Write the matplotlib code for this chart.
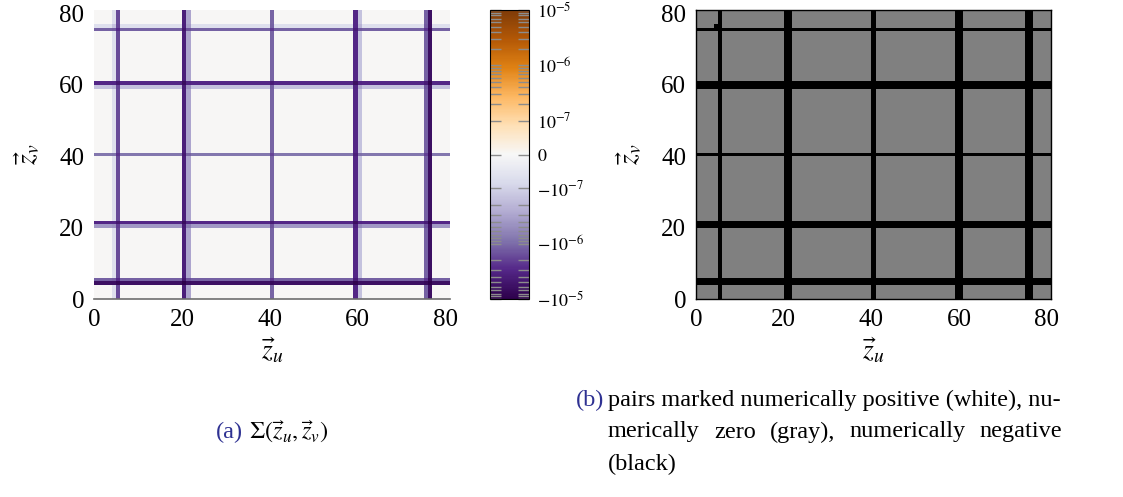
import numpy as np
import matplotlib
matplotlib.use("Agg")
import matplotlib.pyplot as plt
from matplotlib.colors import SymLogNorm, ListedColormap, BoundaryNorm
from matplotlib.ticker import FixedLocator

plt.rcParams['font.family'] = ['Liberation Serif', 'DejaVu Serif']
plt.rcParams['mathtext.fontset'] = 'stix'

# ---------------- data ----------------
n_cells = 81
col_idx = [4, 5, 20, 21, 40, 59, 60, 75, 76]
col_val = [-7e-8, -1.7e-6, -3.8e-6, -3e-7, -1.1e-6, -3e-6, -1.5e-7, -1.2e-6, -6e-6]
row_idx = [4, 5, 20, 21, 40, 59, 60, 75, 76]
row_val = [-6e-6, -1.2e-6, -4e-7, -3e-6, -8e-7, -1.6e-7, -3e-6, -1.2e-6, -7e-8]
zero_tol = 1e-7

cbar_major = [-1e-5, -1e-6, -1e-7, 0, 1e-7, 1e-6, 1e-5]
cbar_labels = [r'$-10^{-5}$', r'$-10^{-6}$', r'$-10^{-7}$', r'$0$',
               r'$10^{-7}$', r'$10^{-6}$', r'$10^{-5}$']
axis_ticks = [0, 20, 40, 60, 80]

caption_a = r'$\Sigma(\vec{z}_u,\vec{z}_v)$'
caption_b_line1 = 'pairs marked numerically positive (white), nu-'
caption_b_line2 = ['merically', 'zero', '(gray),', 'numerically', 'negative']
caption_b_line3 = '(black)'

# ---------------- build matrices ----------------
row_profile = np.zeros(n_cells)
row_profile[row_idx] = row_val
col_profile = np.zeros(n_cells)
col_profile[col_idx] = col_val
sigma = np.add.outer(row_profile, col_profile)   # sigma[v, u]
sign_cls = np.where(np.abs(sigma) < zero_tol, 0, np.sign(sigma))

# ---------------- figure ----------------
W, H = 1123, 497
fig = plt.figure(figsize=(W / 100, H / 100), dpi=100)

def px_axes(x0, y0, x1, y1):
    return fig.add_axes([x0 / W, 1 - y1 / H, (x1 - x0) / W, (y1 - y0) / H])

axL = px_axes(94, 10, 450, 299)
cax = px_axes(490, 10, 529, 299)
axR = px_axes(696, 10, 1051, 299)

norm = SymLogNorm(linthresh=1e-7, linscale=0.55, vmin=-1e-5, vmax=1e-5, base=10)
im = axL.imshow(sigma, origin='lower', extent=[0, n_cells, 0, n_cells],
                cmap='PuOr_r', norm=norm, aspect='auto', interpolation='nearest')

cmapR = ListedColormap(['black', '#808080', 'white'])
normR = BoundaryNorm([-1.5, -0.5, 0.5, 1.5], 3)
axR.imshow(sign_cls, origin='lower', extent=[0, n_cells, 0, n_cells],
           cmap=cmapR, norm=normR, aspect='auto', interpolation='nearest')

for ax in (axL, axR):
    ax.set_xlim(0, n_cells)
    ax.set_ylim(0, n_cells)
    ax.set_xticks(axis_ticks)
    ax.set_yticks(axis_ticks)
    ax.tick_params(length=0, labelsize=18, pad=7)
    ax.set_xlabel(r'$\vec{z}_u$', fontsize=20, labelpad=4)
    ax.set_ylabel(r'$\vec{z}_v$', fontsize=20, labelpad=12)

for s in ('top', 'left', 'right'):
    axL.spines[s].set_visible(False)
axL.spines['bottom'].set_color('#6e6e6e')
axL.spines['bottom'].set_linewidth(1.2)
for s in axR.spines.values():
    s.set_color('black')
    s.set_linewidth(1.0)

cb = fig.colorbar(im, cax=cax)
cb.outline.set_linewidth(0.8)
cb.outline.set_edgecolor('black')
cb.set_ticks(cbar_major)
cb.set_ticklabels(cbar_labels)
minor = []
for e in (-7, -6):
    for k in range(2, 10):
        minor += [k * 10.0 ** e, -k * 10.0 ** e]
cax.yaxis.set_minor_locator(FixedLocator(sorted(minor)))
cax.tick_params(which='both', direction='in', left=True, right=True,
                labelleft=False, labelright=True, color='#8c8c8c',
                length=8, width=1.0, labelsize=13, pad=6)

# ---------------- captions ----------------
cap_color = '#2e3192'
cap_fs = 17.5
renderer = fig.canvas.get_renderer()

def fx(x):
    return x / W
def fy(y):
    return 1 - y / H

def width_px(t):
    return t.get_window_extent(renderer).width

# (a) caption centred under left axes
ta = fig.text(0, fy(432), '(a)', color=cap_color, fontsize=cap_fs, va='center', ha='left')
tb = fig.text(0, fy(432), caption_a, fontsize=cap_fs, va='center', ha='left')
gap = 6
total = width_px(ta) + gap + width_px(tb)
x0 = 272 - total / 2
ta.set_x(fx(x0))
tb.set_x(fx(x0 + width_px(ta) + gap))

# (b) caption, justified block
left_b, right_b = 608, 1062
fig.text(fx(left_b - 4), fy(400), '(b)', color=cap_color, fontsize=cap_fs, va='center', ha='right')
fig.text(fx(left_b), fy(400), caption_b_line1, fontsize=cap_fs, va='center', ha='left')
words = [fig.text(0, fy(432), w, fontsize=cap_fs, va='center', ha='left') for w in caption_b_line2]
ws = [width_px(t) for t in words]
space = (right_b - left_b - sum(ws)) / (len(ws) - 1)
xx = left_b
for t, w in zip(words, ws):
    t.set_x(fx(xx))
    xx += w + space
fig.text(fx(left_b), fy(464), caption_b_line3, fontsize=cap_fs, va='center', ha='left')

fig.savefig('out.png', dpi=100)
